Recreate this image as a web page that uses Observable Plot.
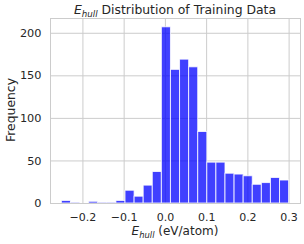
<!DOCTYPE html>
<html>
<head>
<meta charset="utf-8">
<script src="https://cdn.jsdelivr.net/npm/d3@7"></script>
<script src="https://cdn.jsdelivr.net/npm/@observablehq/plot@0.6"></script>
<style>
  html, body { margin: 0; padding: 0; background: #fff; }
  #chart { width: 304px; height: 244px; }
</style>
</head>
<body>
<div id="chart"></div>
<script>
// Histogram counts (25 bins)
const counts = [3, 1, 0, 2, 1, 1, 3, 15, 8, 21, 37, 207, 157, 169, 160, 84, 48, 48, 35, 34, 32, 22, 24, 30, 27];
const binStart = -0.251;
const binWidth = 0.02204;
const xTicks = [-0.2, -0.1, 0.0, 0.1, 0.2, 0.3];
const yTicks = [0, 50, 100, 150, 200];
const xDomain = [-0.2786, 0.3276];
const yDomain = [0, 217.35];

const bins = counts.map((c, i) => ({x1: binStart + i * binWidth, x2: binStart + (i + 1) * binWidth, count: c}));

const fmt = v => (v < 0 ? "\u2212" : "") + Math.abs(v).toFixed(1);
const grid = "#cccccc";
const textColor = "#262626";

const plot = Plot.plot({
  width: 304,
  height: 244,
  marginLeft: 50,
  marginRight: 4,
  marginTop: 18,
  marginBottom: 41,
  style: {fontFamily: "DejaVu Sans", color: textColor, background: "#fff"},
  x: {domain: xDomain},
  y: {domain: yDomain},
  marks: [
    Plot.ruleX(xTicks, {stroke: grid, strokeWidth: 1}),
    Plot.ruleY(yTicks, {stroke: grid, strokeWidth: 1}),
    Plot.rectY(bins, {x1: "x1", x2: "x2", y: "count", fill: "#0000ff", fillOpacity: 0.75, stroke: "#ffffff", strokeOpacity: 0.8, strokeWidth: 1, inset: 0}),
    Plot.frame({stroke: grid, strokeWidth: 1}),
    Plot.axisX({ticks: xTicks, tickFormat: fmt, tickSize: 0, tickPadding: 10, fontSize: 11, label: null}),
    Plot.axisY({ticks: yTicks, tickSize: 0, tickPadding: 9, fontSize: 11.3, label: null})
  ]
});

document.getElementById("chart").appendChild(plot);

const svg = d3.select(plot);
const font = "DejaVu Sans";

// Title
const t = svg.append("text")
  .attr("x", 175).attr("y", 14.3)
  .attr("text-anchor", "middle")
  .attr("font-family", font).attr("font-size", 12.4).attr("fill", textColor);
t.append("tspan").attr("font-style", "italic").text("E");
t.append("tspan").attr("font-style", "italic").attr("font-size", 8.7).attr("dy", 2.7).text("hull");
t.append("tspan").attr("dy", -2.7).text(" Distribution of Training Data");

// X label
const xl = svg.append("text")
  .attr("x", 175).attr("y", 235)
  .attr("text-anchor", "middle")
  .attr("font-family", font).attr("font-size", 12).attr("fill", textColor);
xl.append("tspan").attr("font-style", "italic").text("E");
xl.append("tspan").attr("font-style", "italic").attr("font-size", 8.4).attr("dy", 2.6).text("hull");
xl.append("tspan").attr("dy", -2.6).text(" (eV/atom)");

// Y label
svg.append("text")
  .attr("transform", "translate(15,110) rotate(-90)")
  .attr("text-anchor", "middle")
  .attr("font-family", font).attr("font-size", 12.4).attr("fill", textColor)
  .text("Frequency");
</script>
</body>
</html>
